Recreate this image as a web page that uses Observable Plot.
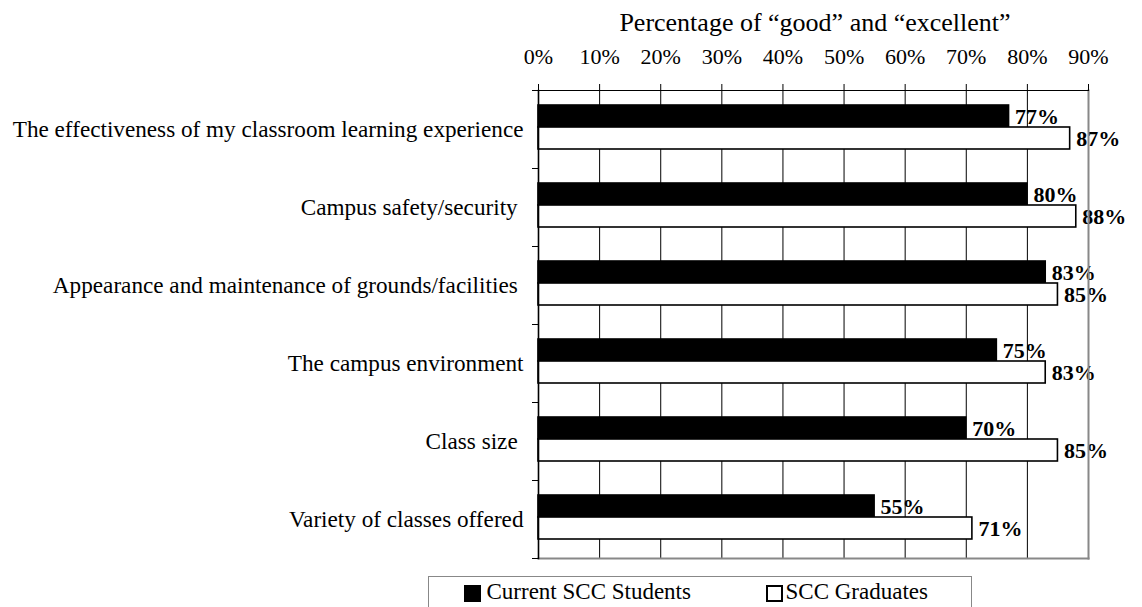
<!DOCTYPE html>
<html>
<head>
<meta charset="utf-8">
<script src="https://cdn.jsdelivr.net/npm/d3@7"></script>
<script src="https://cdn.jsdelivr.net/npm/@observablehq/plot@0.6"></script>
<style>
  html, body { margin: 0; padding: 0; background: #fff; }
  body { width: 1142px; height: 607px; position: relative; overflow: hidden; font-family: "Liberation Serif", "Times New Roman", serif; color: #000; }
  #chart { position: absolute; left: 0; top: 0; }
  #chart svg text { white-space: pre; }
  #title { position: absolute; left: 540px; width: 550px; top: 8px; text-align: center; font-size: 26px; line-height: 30px; white-space: nowrap; }
  #legend { position: absolute; left: 428px; top: 576px; width: 544px; height: 40px; border: 1.5px solid #888; box-sizing: border-box; }
  .sw { position: absolute; width: 17px; height: 17px; box-sizing: border-box; top: 7.5px; }
  .lt { position: absolute; top: 2px; font-size: 23px; line-height: 26px; white-space: nowrap; }
</style>
</head>
<body>
<div id="chart"></div>
<div id="title"></div>
<div id="legend"></div>
<script>
// ---- data ----
const categories = [
  "The effectiveness of my classroom learning experience",
  "Campus safety/security ",
  "Appearance and maintenance of grounds/facilities ",
  "The campus environment",
  "Class size ",
  "Variety of classes offered"
];
const seriesNames = ["Current SCC Students", "SCC Graduates"];
const currentStudents = [77, 80, 83, 75, 70, 55];
const graduates = [87, 88, 85, 83, 85, 71];
const tickValues = [0, 10, 20, 30, 40, 50, 60, 70, 80, 90];
const tickLabels = ["0%", "10%", "20%", "30%", "40%", "50%", "60%", "70%", "80%", "90%"];
const titleText = "Percentage of \u201cgood\u201d and \u201cexcellent\u201d";
const seriesFills = ["#000000", "#ffffff"];

const rows = [];
categories.forEach((c, i) => {
  rows.push({category: c, series: seriesNames[0], value: currentStudents[i]});
  rows.push({category: c, series: seriesNames[1], value: graduates[i]});
});

const font = "Liberation Serif";
const bandPx = (570 - 90 - 12) / categories.length;

const chart = Plot.plot({
  width: 1142,
  height: 570,
  marginTop: 90,
  marginBottom: 12,
  marginLeft: 538,
  marginRight: 54,
  style: {fontFamily: font, fontSize: "22px", color: "#000", background: "#fff"},
  x: {domain: [0, 90]},
  y: {domain: seriesNames, axis: null, paddingInner: 0, paddingOuter: 0.7, align: 0.44},
  fy: {domain: categories, padding: 0, label: null},
  color: {domain: seriesNames, range: seriesFills},
  marks: [
    Plot.gridX(tickValues, {stroke: "#000", strokeOpacity: 1, strokeWidth: 1}),
    Plot.barX(rows, {fy: "category", y: "series", x: "value", fill: "series", stroke: "#000", strokeWidth: 1.6}),
    Plot.text(rows, {
      fy: "category", y: "series", x: "value",
      text: d => d.value + "%",
      textAnchor: "start", dx: 6, fontWeight: "bold", fontSize: 22, fill: "#000"
    }),
    Plot.frame({facet: "super", anchor: "right", stroke: "#888", strokeWidth: 2}),
    Plot.frame({facet: "super", anchor: "bottom", stroke: "#888", strokeWidth: 2}),
    Plot.frame({facet: "super", anchor: "top", stroke: "#000", strokeWidth: 1.2}),
    Plot.frame({facet: "super", anchor: "left", stroke: "#000", strokeWidth: 1.6}),
    Plot.axisX({
      anchor: "top", ticks: tickValues,
      tickFormat: (d) => tickLabels[tickValues.indexOf(d)],
      tickSize: 7, tickPadding: 20, fontSize: 22, label: null, stroke: "#000"
    }),
    Plot.axisFy({anchor: "left", tickSize: 0, tickPadding: 15, fontSize: 23.2, label: null}),
    Plot.axisFy({anchor: "left", tickSize: 6, tickFormat: () => "", label: null, dy: -bandPx / 2}),
    Plot.axisFy({anchor: "left", ticks: [categories[categories.length - 1]], tickSize: 6, tickFormat: () => "", label: null, dy: bandPx / 2})
  ]
});
document.getElementById("chart").appendChild(chart);

document.getElementById("title").textContent = titleText;

const legend = document.getElementById("legend");
const legendItems = [
  {swLeft: 34.5, txtLeft: 57.5},
  {swLeft: 336.5, txtLeft: 356.5}
];
seriesNames.forEach((name, i) => {
  const sw = document.createElement("div");
  sw.className = "sw";
  sw.style.left = legendItems[i].swLeft + "px";
  sw.style.background = seriesFills[i];
  sw.style.border = "2px solid #000";
  legend.appendChild(sw);
  const t = document.createElement("div");
  t.className = "lt";
  t.style.left = legendItems[i].txtLeft + "px";
  t.textContent = name;
  legend.appendChild(t);
});
</script>
</body>
</html>
